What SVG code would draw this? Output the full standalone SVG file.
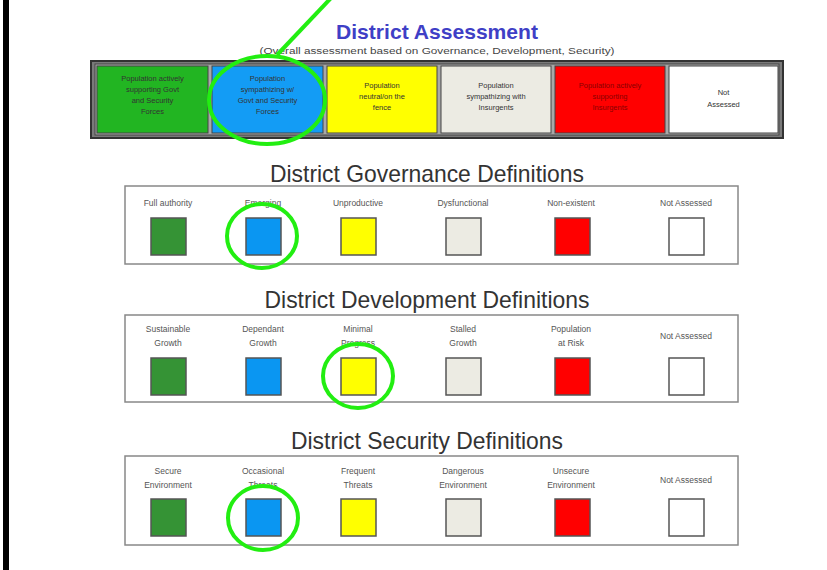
<svg xmlns="http://www.w3.org/2000/svg" width="827" height="570" viewBox="0 0 827 570">
<style>
  .ttl{font-family:"Liberation Sans",Arial,sans-serif;font-size:24px;fill:#333;text-anchor:middle}
  .cell{stroke:#444;stroke-width:1}
  .ct{font-family:"Liberation Sans",Arial,sans-serif;font-size:7.5px;fill:#333;text-anchor:middle}
  .box{fill:#fff;stroke:#888;stroke-width:1.5}
  .lb{font-family:"Liberation Sans",Arial,sans-serif;font-size:8.5px;fill:#555;text-anchor:middle}
  .sq{stroke:#555;stroke-width:1.5}
  .hl{fill:none;stroke:#22ee11;stroke-width:4}
</style>
<rect width="827" height="570" fill="#fff"/>
<rect x="3" y="0" width="6" height="570" fill="#000"/>

<g id="assessment">
  <text x="437" y="39" font-family="Liberation Sans,Arial,sans-serif" font-size="21" font-weight="bold" fill="#3f3fc6" text-anchor="middle" textLength="202" lengthAdjust="spacingAndGlyphs">District Assessment</text>
  <text x="437" y="54" font-family="Liberation Sans,Arial,sans-serif" font-size="8.5" fill="#444" text-anchor="middle" textLength="355" lengthAdjust="spacingAndGlyphs">(Overall assessment based on Governance, Development, Security)</text>
  <rect x="91" y="61" width="692" height="77" fill="#7a7a7a" stroke="#333" stroke-width="2"/>
  <rect x="95" y="64" width="684" height="71" fill="#a8a8a8" stroke="#444" stroke-width="1"/>
  <g id="cell-green"><rect class="cell" x="97" y="66" width="111" height="67" fill="#22b522"/>
    <text class="ct" x="152.5" y="81">Population actively</text><text class="ct" x="152.5" y="92">supporting Govt</text><text class="ct" x="152.5" y="103">and Security</text><text class="ct" x="152.5" y="114">Forces</text></g>
  <g id="cell-blue"><rect class="cell" x="212" y="66" width="111" height="67" fill="#139cf5"/>
    <text class="ct" x="267.5" y="81" fill="#123">Population</text><text class="ct" x="267.5" y="92">sympathizing w/</text><text class="ct" x="267.5" y="103">Govt and Security</text><text class="ct" x="267.5" y="114">Forces</text></g>
  <g id="cell-yellow"><rect class="cell" x="327" y="66" width="110" height="67" fill="#ffff00"/>
    <text class="ct" x="382" y="88">Population</text><text class="ct" x="382" y="99">neutral/on the</text><text class="ct" x="382" y="110">fence</text></g>
  <g id="cell-beige"><rect class="cell" x="441" y="66" width="110" height="67" fill="#ecebe3"/>
    <text class="ct" x="496" y="88">Population</text><text class="ct" x="496" y="99">sympathizing with</text><text class="ct" x="496" y="110">Insurgents</text></g>
  <g id="cell-red"><rect class="cell" x="555" y="66" width="110" height="67" fill="#ff0000"/>
    <text class="ct" x="610" y="88" style="fill:#8a0000">Population actively</text><text class="ct" x="610" y="99" style="fill:#8a0000">supporting</text><text class="ct" x="610" y="110" style="fill:#8a0000">Insurgents</text></g>
  <g id="cell-white"><rect class="cell" x="669" y="66" width="109" height="67" fill="#fff"/>
    <text class="ct" x="723.5" y="95">Not</text><text class="ct" x="723.5" y="107">Assessed</text></g>
</g>

<g id="governance">
  <text class="ttl" x="427" y="182" textLength="314" lengthAdjust="spacingAndGlyphs">District Governance Definitions</text>
  <rect class="box" x="125" y="186" width="613" height="78"/>
  <text class="lb" x="168" y="206">Full authority</text>
  <text class="lb" x="263" y="206">Emerging</text>
  <text class="lb" x="358" y="206">Unproductive</text>
  <text class="lb" x="463" y="206">Dysfunctional</text>
  <text class="lb" x="571" y="206">Non-existent</text>
  <text class="lb" x="686" y="206">Not Assessed</text>
  <rect class="sq" x="151" y="218" width="35" height="37" fill="#359335"/>
  <rect class="sq" x="246" y="218" width="35" height="37" fill="#0a96f2"/>
  <rect class="sq" x="341" y="218" width="35" height="37" fill="#ffff00"/>
  <rect class="sq" x="446" y="218" width="35" height="37" fill="#ecebe3"/>
  <rect class="sq" x="555" y="218" width="35" height="37" fill="#ff0000"/>
  <rect class="sq" x="669" y="218" width="35" height="37" fill="#fff" stroke="#888"/>
</g>

<g id="development">
  <text class="ttl" x="427" y="308" textLength="325" lengthAdjust="spacingAndGlyphs">District Development Definitions</text>
  <rect class="box" x="125" y="315" width="613" height="87"/>
  <text class="lb" x="168" y="332">Sustainable</text><text class="lb" x="168" y="346">Growth</text>
  <text class="lb" x="263" y="332">Dependant</text><text class="lb" x="263" y="346">Growth</text>
  <text class="lb" x="358" y="332">Minimal</text><text class="lb" x="358" y="346">Progress</text>
  <text class="lb" x="463" y="332">Stalled</text><text class="lb" x="463" y="346">Growth</text>
  <text class="lb" x="571" y="332">Population</text><text class="lb" x="571" y="346">at Risk</text>
  <text class="lb" x="686" y="339">Not Assessed</text>
  <rect class="sq" x="151" y="358" width="35" height="37" fill="#359335"/>
  <rect class="sq" x="246" y="358" width="35" height="37" fill="#0a96f2"/>
  <rect class="sq" x="341" y="358" width="35" height="37" fill="#ffff00"/>
  <rect class="sq" x="446" y="358" width="35" height="37" fill="#ecebe3"/>
  <rect class="sq" x="555" y="358" width="35" height="37" fill="#ff0000"/>
  <rect class="sq" x="669" y="358" width="35" height="37" fill="#fff" stroke="#888"/>
</g>

<g id="security">
  <text class="ttl" x="427" y="449" textLength="272" lengthAdjust="spacingAndGlyphs">District Security Definitions</text>
  <rect class="box" x="125" y="456" width="613" height="89"/>
  <text class="lb" x="168" y="474">Secure</text><text class="lb" x="168" y="488">Environment</text>
  <text class="lb" x="263" y="474">Occasional</text><text class="lb" x="263" y="488">Threats</text>
  <text class="lb" x="358" y="474">Frequent</text><text class="lb" x="358" y="488">Threats</text>
  <text class="lb" x="463" y="474">Dangerous</text><text class="lb" x="463" y="488">Environment</text>
  <text class="lb" x="571" y="474">Unsecure</text><text class="lb" x="571" y="488">Environment</text>
  <text class="lb" x="686" y="483">Not Assessed</text>
  <rect class="sq" x="151" y="499" width="35" height="37" fill="#359335"/>
  <rect class="sq" x="246" y="499" width="35" height="37" fill="#0a96f2"/>
  <rect class="sq" x="341" y="499" width="35" height="37" fill="#ffff00"/>
  <rect class="sq" x="446" y="499" width="35" height="37" fill="#ecebe3"/>
  <rect class="sq" x="555" y="499" width="35" height="37" fill="#ff0000"/>
  <rect class="sq" x="669" y="499" width="35" height="37" fill="#fff" stroke="#888"/>
</g>

<g id="highlights">
  <line class="hl" x1="331" y1="-2" x2="277" y2="55"/>
  <ellipse class="hl" cx="267" cy="100" rx="58" ry="44"/>
  <ellipse class="hl" cx="262" cy="236" rx="35" ry="32"/>
  <ellipse class="hl" cx="358" cy="376" rx="35" ry="32"/>
  <ellipse class="hl" cx="263" cy="518" rx="35" ry="32"/>
</g>
</svg>
